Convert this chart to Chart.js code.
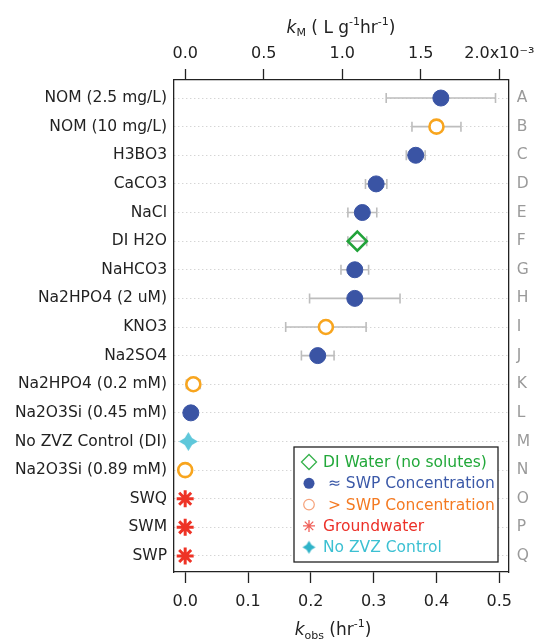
<!DOCTYPE html>
<html>
<head>
<meta charset="utf-8">
<script src="https://cdn.jsdelivr.net/npm/chart.js@4.4.0/dist/chart.umd.min.js"></script>
<style>
  html, body { margin: 0; padding: 0; background: #fff; }
</style>
</head>
<body>
<canvas id="c" width="536" height="642"></canvas>
<script>
// data
const categories = ["NOM (2.5 mg/L)", "NOM (10 mg/L)", "H3BO3", "CaCO3", "NaCl", "DI H2O", "NaHCO3",
  "Na2HPO4 (2 uM)", "KNO3", "Na2SO4", "Na2HPO4 (0.2 mM)", "Na2O3Si (0.45 mM)", "No ZVZ Control (DI)",
  "Na2O3Si (0.89 mM)", "SWQ", "SWM", "SWP"];
const letters = ["A", "B", "C", "D", "E", "F", "G", "H", "I", "J", "K", "L", "M", "N", "O", "P", "Q"];
const kobs = [0.407, 0.400, 0.367, 0.304, 0.282, 0.274, 0.270, 0.270, 0.224, 0.211, 0.013, 0.009, 0.005, 0.000, 0.000, 0.000, 0.000];
const kobsErr = [0.087, 0.039, 0.015, 0.017, 0.023, 0.015, 0.022, 0.072, 0.064, 0.026, 0.011, 0, 0, 0.002, 0, 0, 0];
const group = ["swp", "gt", "swp", "swp", "swp", "di", "swp", "swp", "gt", "swp", "gt", "swp", "ctl", "gt", "gw", "gw", "gw"];
const kobsTicks = [0, 0.1, 0.2, 0.3, 0.4, 0.5];
const kmTicks = [0, 0.5, 1.0, 1.5, 2.0];   // x10^-3 L g^-1 hr^-1

const X_MIN = -0.0178, X_MAX = 0.515;
const KM_PER_KOBS = 4;   // top axis = 4e-3 * kobs
const Y_MIN = -0.63, Y_MAX = 16.56;
const FONT = "'DejaVu Sans', sans-serif";

function sparkle(color, r) {
  let c = document.createElement("canvas")
  c.width = c.height = 2 * r + 2
  let g = c.getContext("2d")
  let m = r + 1, k = r * 0.38
  g.fillStyle = color
  g.beginPath()
  g.moveTo(m, m - r)
  g.lineTo(m + k, m - k)
  g.lineTo(m + r, m)
  g.lineTo(m + k, m + k)
  g.lineTo(m, m + r)
  g.lineTo(m - k, m + k)
  g.lineTo(m - r, m)
  g.lineTo(m - k, m - k)
  g.closePath()
  g.fill()
  return c
}

const groups = [
  { key: "di", label: "DI Water (no solutes)", text: "#22a83a",
    style: { pointStyle: "rectRot", radius: 9.5, borderWidth: 2.6, borderColor: "#22a33a", backgroundColor: "rgba(0,0,0,0)" } },
  { key: "swp", label: " \u2248 SWP Concentration", text: "#3b59a8",
    style: { pointStyle: "circle", radius: 8, borderWidth: 1, borderColor: "#3a54a4", backgroundColor: "#3a54a4" } },
  { key: "gt", label: " > SWP Concentration", text: "#f47a22",
    style: { pointStyle: "circle", radius: 7, borderWidth: 2.6, borderColor: "#f8a51e", backgroundColor: "#ffffff" } },
  { key: "gw", label: "Groundwater", text: "#ec3028",
    style: { pointStyle: "star", radius: 8.5, borderWidth: 3, borderColor: "#ee3326", backgroundColor: "#ee3326" } },
  { key: "ctl", label: "No ZVZ Control", text: "#3cc0d2",
    style: { pointStyle: sparkle("#5ec7da", 9.5), radius: 9, borderWidth: 0, borderColor: "#5ec7da", backgroundColor: "#5ec7da" } }
]

const datasets = groups.map(g => {
  let pts = []
  for (let i = 0; i < categories.length; i++) {
    if (group[i] === g.key) pts.push({ x: kobs[i], y: i })
  }
  return {
    label: g.label,
    data: pts,
    pointStyle: g.style.pointStyle,
    pointRadius: g.style.radius,
    pointBorderWidth: g.style.borderWidth,
    pointBorderColor: g.style.borderColor,
    pointBackgroundColor: g.style.backgroundColor,
    showLine: false,
    xAxisID: "x",
    yAxisID: "y"
  }
})

// error bars, under the markers
const errorBars = {
  id: "errorBars",
  beforeDatasetsDraw(chart) {
    let ctx = chart.ctx, xs = chart.scales.x, ys = chart.scales.y
    ctx.save()
    ctx.strokeStyle = "#bdbdbd"
    ctx.lineWidth = 1.6
    for (let i = 0; i < kobs.length; i++) {
      if (!kobsErr[i]) continue
      let y = ys.getPixelForValue(i)
      let x1 = xs.getPixelForValue(kobs[i] - kobsErr[i])
      let x2 = xs.getPixelForValue(kobs[i] + kobsErr[i])
      ctx.beginPath()
      ctx.moveTo(x1, y); ctx.lineTo(x2, y)
      ctx.moveTo(x1, y - 5); ctx.lineTo(x1, y + 5)
      ctx.moveTo(x2, y - 5); ctx.lineTo(x2, y + 5)
      ctx.stroke()
    }
    ctx.restore()
  }
}

function richText(ctx, parts, cx, baseline) {
  let w = 0
  parts.forEach(p => { ctx.font = p[1]; w += ctx.measureText(p[0]).width })
  let x = cx - w / 2
  ctx.textAlign = "left"
  ctx.textBaseline = "alphabetic"
  parts.forEach(p => {
    ctx.font = p[1]
    ctx.fillText(p[0], x, baseline + p[2])
    x += ctx.measureText(p[0]).width
  })
}

const titlesAndLegend = {
  id: "titlesAndLegend",
  afterDraw(chart) {
    let ctx = chart.ctx
    ctx.save()
    ctx.fillStyle = "#222"
    let big = "17px " + FONT, ital = "italic 17px " + FONT, small = "11px " + FONT
    richText(ctx, [["k", ital, 0], ["M", small, 3], [" ( L g", big, 0], ["-1", small, -8],
      ["hr", big, 0], ["-1", small, -8], [")", big, 0]], 341, 33)
    richText(ctx, [["k", ital, 0], ["obs", small, 4], [" (hr", big, 0], ["-1", small, -8], [")", big, 0]], 333, 635)

    // legend box
    let bx = 294, by = 447, bw = 204, bh = 115
    ctx.fillStyle = "#fff"
    ctx.fillRect(bx, by, bw, bh)
    ctx.strokeStyle = "#222"
    ctx.lineWidth = 1.3
    ctx.strokeRect(bx, by, bw, bh)
    let mx = 309
    groups.forEach((g, j) => {
      let y = 462 + j * 21.3
      ctx.save()
      if (g.key === "di") {
        ctx.strokeStyle = "#37b24d"; ctx.lineWidth = 1.3
        ctx.beginPath()
        ctx.moveTo(mx - 7.5, y); ctx.lineTo(mx, y - 7.5); ctx.lineTo(mx + 7.5, y); ctx.lineTo(mx, y + 7.5)
        ctx.closePath(); ctx.stroke()
      } else if (g.key === "swp") {
        ctx.fillStyle = "#3a54a4"
        ctx.beginPath(); ctx.arc(mx, y, 5.5, 0, Math.PI * 2); ctx.fill()
      } else if (g.key === "gt") {
        ctx.strokeStyle = "#f6a27a"; ctx.lineWidth = 1.2
        ctx.beginPath(); ctx.arc(mx, y, 5.3, 0, Math.PI * 2); ctx.stroke()
      } else if (g.key === "gw") {
        ctx.strokeStyle = "#f0605a"; ctx.lineWidth = 1.3
        ctx.beginPath()
        for (let a = 0; a < 4; a++) {
          let t = a * Math.PI / 4
          ctx.moveTo(mx - 6 * Math.cos(t), y - 6 * Math.sin(t))
          ctx.lineTo(mx + 6 * Math.cos(t), y + 6 * Math.sin(t))
        }
        ctx.stroke()
      } else {
        let s = sparkle("#2fb3c8", 6.5)
        ctx.drawImage(s, mx - s.width / 2, y - s.height / 2)
      }
      ctx.restore()
      ctx.fillStyle = g.text
      ctx.font = "15.5px " + FONT
      ctx.textAlign = "left"
      ctx.textBaseline = "middle"
      ctx.fillText(g.label, 323, y + 1)
    })
    ctx.restore()
  }
}

const tickFont = { family: FONT, size: 16 }

new Chart(document.getElementById("c"), {
  type: "scatter",
  data: { datasets: datasets },
  options: {
    responsive: false,
    devicePixelRatio: 1,
    animation: false,
    layout: { padding: 0 },
    plugins: { legend: { display: false }, tooltip: { enabled: false } },
    scales: {
      x: {
        type: "linear", position: "bottom", min: X_MIN, max: X_MAX,
        afterBuildTicks: s => { s.ticks = kobsTicks.map(v => ({ value: v })) },
        afterFit: s => { s.height = 70; s.paddingLeft = 0; s.paddingRight = 0 },
        ticks: { callback: v => v.toFixed(1), font: tickFont, color: "#222", padding: 9, maxRotation: 0, autoSkip: false },
        grid: { drawOnChartArea: false, drawTicks: true, tickLength: 11, tickColor: "#222", tickWidth: 1.3 },
        border: { color: "#222", width: 1.3 }
      },
      x2: {
        type: "linear", position: "top", min: X_MIN * KM_PER_KOBS, max: X_MAX * KM_PER_KOBS,
        afterBuildTicks: s => { s.ticks = kmTicks.map(v => ({ value: v })) },
        afterFit: s => { s.height = 80; s.paddingLeft = 0; s.paddingRight = 0 },
        ticks: { callback: v => v === 2 ? "2.0x10\u207B\u00B3" : v.toFixed(1), font: tickFont, color: "#222", padding: 6, maxRotation: 0, autoSkip: false },
        grid: { drawOnChartArea: false, drawTicks: true, tickLength: 11, tickColor: "#222", tickWidth: 1.3 },
        border: { color: "#222", width: 1.3 }
      },
      y: {
        type: "linear", position: "left", reverse: true, min: Y_MIN, max: Y_MAX,
        afterBuildTicks: s => { s.ticks = categories.map((c, i) => ({ value: i })) },
        afterFit: s => { s.width = 174 },
        ticks: { callback: v => categories[v], font: { family: FONT, size: 15.5 }, color: "#222", padding: 7, autoSkip: false },
        grid: { drawTicks: false, color: "#c4c4c4", lineWidth: 1 },
        border: { color: "#222", width: 1.3, dash: [1, 3] }
      },
      y2: {
        type: "linear", position: "right", reverse: true, min: Y_MIN, max: Y_MAX,
        afterBuildTicks: s => { s.ticks = letters.map((c, i) => ({ value: i })) },
        afterFit: s => { s.width = 27.3 },
        ticks: { callback: v => letters[v], font: { family: FONT, size: 15.5 }, color: "#9a9a9a", padding: 8, autoSkip: false },
        grid: { drawOnChartArea: false, drawTicks: false },
        border: { color: "#222", width: 1.3 }
      }
    }
  },
  plugins: [errorBars, titlesAndLegend]
})
</script>
</body>
</html>
